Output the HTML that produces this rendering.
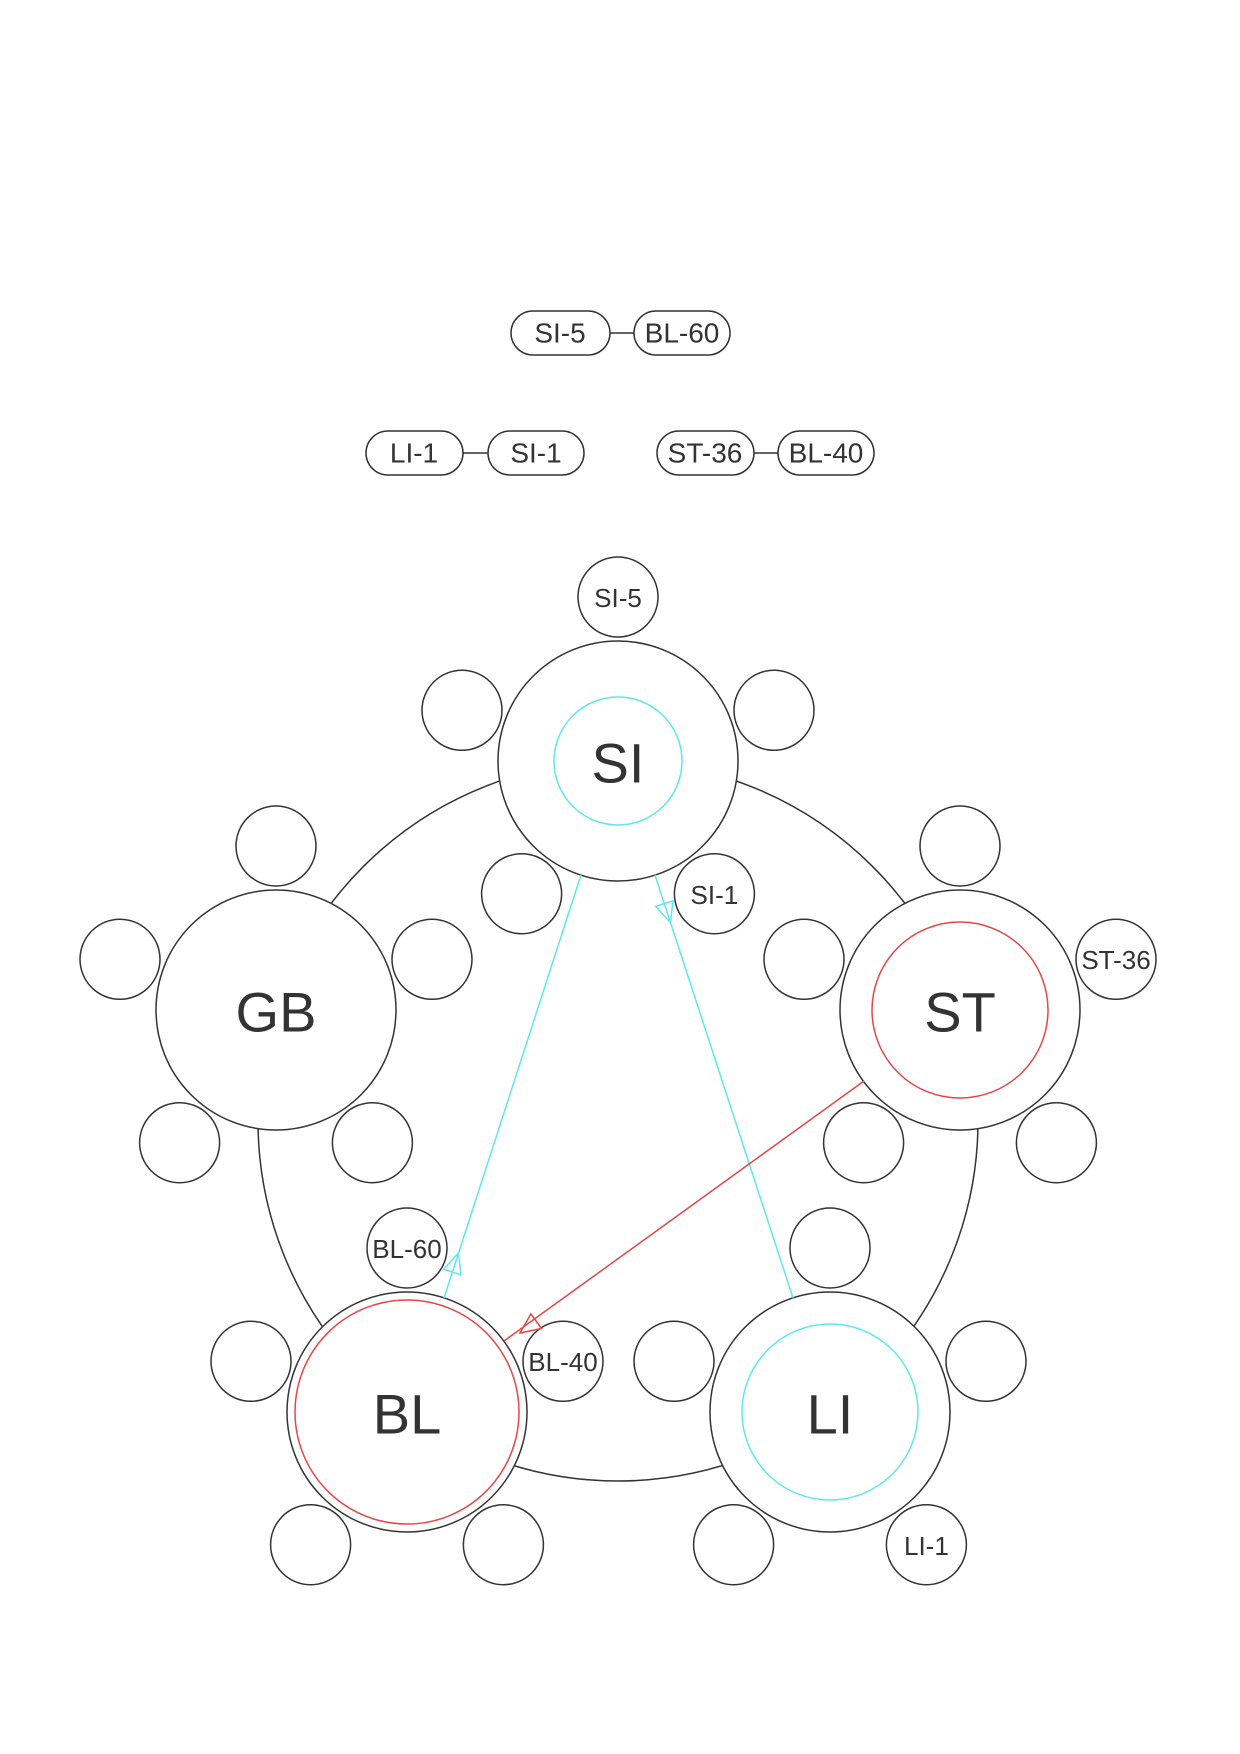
<!DOCTYPE html>
<html><head><meta charset="utf-8"><style>
html,body{margin:0;padding:0;background:#fff;}
svg{display:block;}
text{font-family:"Liberation Sans",Arial,sans-serif;fill:#333;text-anchor:middle;dominant-baseline:central;}
</style></head><body>
<svg width="1240" height="1754" viewBox="0 0 1240 1754" xmlns="http://www.w3.org/2000/svg">
<rect width="1240" height="1754" fill="#fff"/>
<g stroke="#333" stroke-width="1.5" fill="#fff">
<line x1="610" y1="333" x2="634" y2="333"/>
<rect x="511" y="311" width="99" height="44" rx="22"/>
<rect x="634" y="311" width="96" height="44" rx="22"/>
<line x1="463" y1="453" x2="488" y2="453"/>
<rect x="366" y="431" width="97" height="44" rx="22"/>
<rect x="488" y="431" width="96" height="44" rx="22"/>
<line x1="754" y1="453" x2="778" y2="453"/>
<rect x="657" y="431" width="97" height="44" rx="22"/>
<rect x="778" y="431" width="96" height="44" rx="22"/>
</g>
<g font-size="28">
<text x="560" y="333">SI-5</text><text x="682" y="333">BL-60</text>
<text x="414" y="453">LI-1</text><text x="536" y="453">SI-1</text>
<text x="705" y="453">ST-36</text><text x="826" y="453">BL-40</text>
</g>
<circle cx="618" cy="1121" r="360" fill="none" stroke="#333" stroke-width="1.5"/>
<g transform="translate(0,1)">
<g stroke="#333" stroke-width="1.5" fill="#fff">
<circle cx="618" cy="596" r="40"/><circle cx="774" cy="709.3" r="40"/><circle cx="714.4" cy="892.7" r="40"/><circle cx="521.6" cy="892.7" r="40"/><circle cx="462" cy="709.3" r="40"/>
<circle cx="960" cy="845" r="40"/><circle cx="1116" cy="958.3" r="40"/><circle cx="1056.4" cy="1141.7" r="40"/><circle cx="863.6" cy="1141.7" r="40"/><circle cx="804" cy="958.3" r="40"/>
<circle cx="830" cy="1247" r="40"/><circle cx="986" cy="1360.3" r="40"/><circle cx="926.4" cy="1543.7" r="40"/><circle cx="733.6" cy="1543.7" r="40"/><circle cx="674" cy="1360.3" r="40"/>
<circle cx="407" cy="1247" r="40"/><circle cx="563" cy="1360.3" r="40"/><circle cx="503.4" cy="1543.7" r="40"/><circle cx="310.6" cy="1543.7" r="40"/><circle cx="251" cy="1360.3" r="40"/>
<circle cx="276" cy="845" r="40"/><circle cx="432" cy="958.3" r="40"/><circle cx="372.4" cy="1141.7" r="40"/><circle cx="179.6" cy="1141.7" r="40"/><circle cx="120" cy="958.3" r="40"/>
<circle cx="618" cy="760" r="120"/>
<circle cx="960" cy="1009" r="120"/>
<circle cx="830" cy="1411" r="120"/>
<circle cx="407" cy="1411" r="120"/>
<circle cx="276" cy="1009" r="120"/>
</g>
<circle cx="618" cy="760" r="64" fill="none" stroke="#5ee8ee" stroke-width="1.5"/>
<circle cx="960" cy="1009" r="88" fill="none" stroke="#e84545" stroke-width="1.5"/>
<circle cx="830" cy="1411" r="88" fill="none" stroke="#5ee8ee" stroke-width="1.5"/>
<circle cx="407" cy="1411" r="112" fill="none" stroke="#e84545" stroke-width="1.5"/>
<g fill="none" stroke-width="1.5">
<line x1="581" y1="874" x2="444" y2="1297" stroke="#5ee8ee"/>
<polygon points="458.5,1252 460.9,1273.8 443.7,1268.2" stroke="#5ee8ee"/>
<line x1="793" y1="1297" x2="655" y2="874" stroke="#5ee8ee"/>
<polygon points="670.5,921.6 672.9,899.8 655.7,905.4" stroke="#5ee8ee"/>
<line x1="864" y1="1080" x2="504" y2="1340" stroke="#e84545"/>
<polygon points="520,1332 541.5,1327.5 530.9,1312.9" stroke="#e84545"/>
</g>
<g font-size="56">
<text x="618" y="762">SI</text>
<text x="960" y="1011">ST</text>
<text x="830" y="1413">LI</text>
<text x="407" y="1413">BL</text>
<text x="276" y="1011">GB</text>
</g>
<g font-size="26">
<text x="618" y="597">SI-5</text>
<text x="714.4" y="894">SI-1</text>
<text x="1116" y="959">ST-36</text>
<text x="407" y="1248">BL-60</text>
<text x="563" y="1361">BL-40</text>
<text x="926.4" y="1545">LI-1</text>
</g>
</g>
</svg>
</body></html>
